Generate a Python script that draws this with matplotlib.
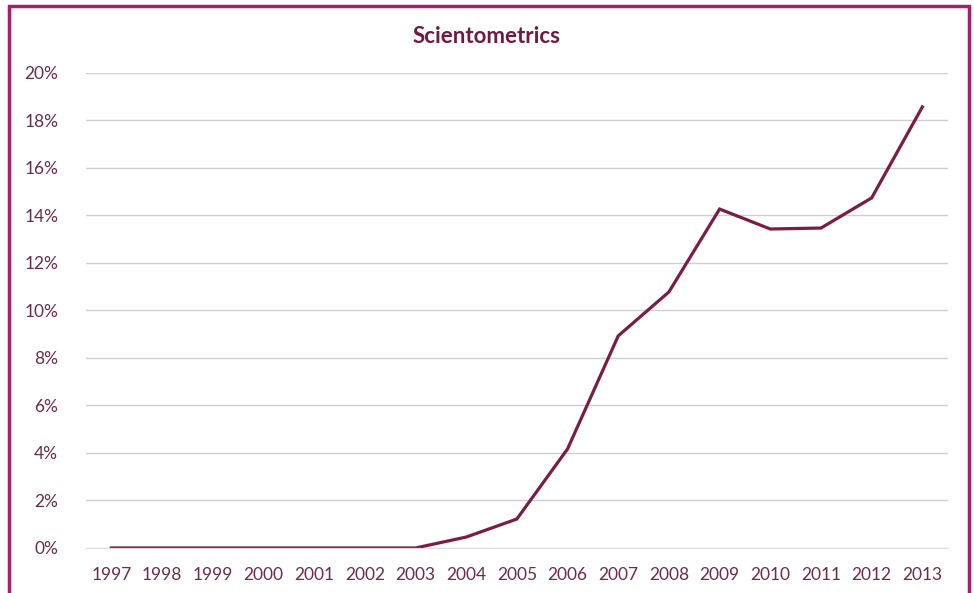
import matplotlib
matplotlib.use('Agg')
import matplotlib.pyplot as plt
from matplotlib.patches import Rectangle
from matplotlib.ticker import FuncFormatter

# share per year, in percent
years = [1997, 1998, 1999, 2000, 2001, 2002, 2003, 2004, 2005,
         2006, 2007, 2008, 2009, 2010, 2011, 2012, 2013]
share = [0, 0, 0, 0, 0, 0, 0, 0.46, 1.22,
         4.17, 8.93, 10.78, 14.27, 13.43, 13.47, 14.74, 18.57]
y_ticks = [0, 2, 4, 6, 8, 10, 12, 14, 16, 18, 20]

text_col = '#6a2c4c'
line_col = '#7b1c47'
border_col = '#a3216b'

plt.rcParams['font.family'] = ['Lato', 'DejaVu Sans']

fig = plt.figure(figsize=(9.74, 5.93), dpi=100)
ax = fig.add_axes([0.0883, 0.0759, 0.8847, 0.8011])

ax.plot(years, share, color=line_col, linewidth=2.3, solid_joinstyle='miter')

ax.set_xlim(1996.5, 2013.5)
ax.set_ylim(0, 20)
ax.set_yticks(y_ticks)
ax.set_xticks(years)
ax.yaxis.set_major_formatter(FuncFormatter(lambda v, p: '%d%%' % v))
ax.grid(axis='y', color='#cfcfcf', linewidth=1)
ax.set_axisbelow(True)
for s in ['top', 'right', 'left']:
    ax.spines[s].set_visible(False)
ax.spines['bottom'].set_color('#e0e0e0')
ax.tick_params(length=0, labelsize=12.5, colors=text_col)
ax.tick_params(axis='y', pad=20)
ax.tick_params(axis='x', pad=14)

fig.text(0.5, 0.938, 'Scientometrics', ha='center', va='center',
         fontsize=16, fontweight='bold', color='#6e1a45')

# frame around the chart
fig.patches.append(Rectangle((9 / 974, -0.05), 960 / 974, 1 - 6 / 593 + 0.05,
                             transform=fig.transFigure, fill=False,
                             edgecolor=border_col, linewidth=2.5))

fig.savefig('out.png', dpi=100, facecolor='white')
